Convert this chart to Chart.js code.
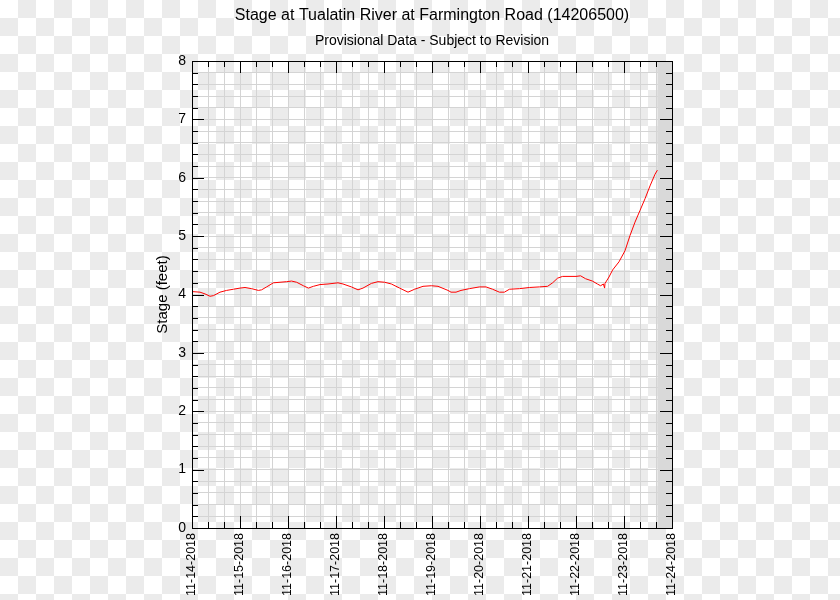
<!DOCTYPE html>
<html>
<head>
<meta charset="utf-8">
<script src="https://cdn.jsdelivr.net/npm/chart.js@4/dist/chart.umd.min.js"></script>
<style>
  html, body { margin: 0; padding: 0; }
  body {
    width: 840px; height: 600px; overflow: hidden;
    background: repeating-conic-gradient(#ebebeb 0 25%, #ffffff 0 50%) 0 0 / 36px 36px;
  }
  canvas { display: block; }
</style>
</head>
<body>
<canvas id="stageChart" width="840" height="600"></canvas>
<script>
// stage readings, hours after 11-14-2018 00:00
const hoursFromStart = [
  0, 4, 6.5, 9, 10.7, 14, 17.3, 20.7, 24, 26.5, 29.8, 33.2, 34.8, 37.3, 40.7, 44, 47.3, 49.8,
  52.3, 55.7, 58.2, 60.7, 64, 68, 73, 75.5, 79.7, 83, 85.5, 89.7, 93, 96.3, 99.7, 103.8, 108,
  111.3, 115.5, 119.7, 123, 128, 129.5, 132, 134.5, 138.7, 143.7, 147, 150.3, 153.7, 156.2,
  158.7, 163.7, 168.7, 173.7, 177.8, 180.3, 182.8, 185.3, 192, 194.3, 196.8, 200.2, 202.7,
  204.3, 205.7, 206.3, 206.5, 208.5, 210.3, 213.5, 216.5, 219, 221.5, 224, 226.5, 229, 231.5, 232.7
];
const stageFeet = [
  4.05, 4.04, 4.01, 3.97, 3.98, 4.04, 4.07, 4.09, 4.11, 4.12, 4.10, 4.07, 4.08, 4.13, 4.20, 4.21, 4.22, 4.23,
  4.21, 4.15, 4.11, 4.14, 4.17, 4.18, 4.20, 4.18, 4.13, 4.08, 4.11, 4.19, 4.22, 4.21, 4.18, 4.11, 4.04,
  4.09, 4.14, 4.15, 4.14, 4.07, 4.04, 4.04, 4.07, 4.10, 4.13, 4.13, 4.09, 4.04, 4.04,
  4.09, 4.10, 4.12, 4.13, 4.14, 4.20, 4.28, 4.31, 4.31, 4.32, 4.27, 4.23, 4.18,
  4.15, 4.18, 4.11, 4.19, 4.30, 4.42, 4.56, 4.75, 5.01, 5.24, 5.44, 5.64, 5.86, 6.06, 6.13
];
const dayLabels = [
  "11-14-2018", "11-15-2018", "11-16-2018", "11-17-2018", "11-18-2018", "11-19-2018",
  "11-20-2018", "11-21-2018", "11-22-2018", "11-23-2018", "11-24-2018"
];
const noDataFrom = 232.7; // shaded after the last reading

Chart.defaults.font.family = '"Liberation Sans", Arial, Helvetica, sans-serif';
Chart.defaults.color = '#000';

// grey band + boxed frame with inward ticks on all four sides
const framePlugin = {
  id: 'frame',
  beforeDatasetsDraw(chart) {
    const { ctx, chartArea: a, scales: { x } } = chart;
    const x0 = x.getPixelForValue(noDataFrom);
    ctx.save();
    ctx.fillStyle = '#d9d9d9';
    ctx.fillRect(x0, a.top, a.right - x0, a.bottom - a.top);
    ctx.restore();
  },
  afterDatasetsDraw(chart) {
    const { ctx, chartArea: a, scales: { x, y } } = chart;
    ctx.save();
    ctx.strokeStyle = '#000';
    ctx.lineWidth = 1;
    ctx.beginPath();
    for (const t of y.ticks) {
      const py = Math.round(y.getPixelForValue(t.value)) + 0.5;
      const len = Number.isInteger(t.value) ? 12 : 6;
      ctx.moveTo(a.left, py); ctx.lineTo(a.left + len, py);
      ctx.moveTo(a.right, py); ctx.lineTo(a.right - len, py);
    }
    for (const t of x.ticks) {
      const px = Math.round(x.getPixelForValue(t.value)) + 0.5;
      const len = t.value % 24 === 0 ? 12 : 6;
      ctx.moveTo(px, a.bottom); ctx.lineTo(px, a.bottom - len);
      ctx.moveTo(px, a.top); ctx.lineTo(px, a.top + len);
    }
    ctx.stroke();
    ctx.strokeRect(Math.round(a.left) + 0.5, Math.round(a.top) + 0.5,
      Math.round(a.right - a.left), Math.round(a.bottom - a.top));
    ctx.restore();
  }
};

new Chart(document.getElementById('stageChart'), {
  type: 'line',
  data: {
    datasets: [{
      label: 'Stage',
      data: hoursFromStart.map((h, i) => ({ x: h, y: stageFeet[i] })),
      borderColor: '#ff0000',
      borderWidth: 1,
      pointRadius: 0,
      tension: 0
    }]
  },
  options: {
    responsive: false,
    animation: false,
    // left padding offsets the titles so they centre over the plot
    layout: { padding: { left: 24, right: 0, top: 0, bottom: 0 } },
    plugins: {
      legend: { display: false },
      tooltip: { enabled: false },
      title: {
        display: true,
        text: 'Stage at Tualatin River at Farmington Road (14206500)',
        font: { size: 16, weight: 'normal' },
        padding: { top: 6, bottom: 3 }
      },
      subtitle: {
        display: true,
        text: 'Provisional Data - Subject to Revision',
        font: { size: 14 },
        padding: { top: 5, bottom: 11 }
      }
    },
    scales: {
      x: {
        type: 'linear',
        min: 0,
        max: 240,
        border: { display: false },
        grid: { color: '#d4d4d4', drawTicks: false },
        ticks: {
          stepSize: 8,
          autoSkip: false,
          maxRotation: 90,
          minRotation: 90,
          padding: 5,
          font: { size: 12.5 },
          callback: v => (v % 24 === 0 ? dayLabels[v / 24] : '')
        },
        afterFit: s => { s.height = 72; }
      },
      y: {
        min: 0,
        max: 8,
        border: { display: false },
        grid: { color: '#d4d4d4', drawTicks: false },
        ticks: {
          stepSize: 0.2,
          autoSkip: false,
          padding: 6,
          font: { size: 14 },
          callback: v => (Number.isInteger(v) ? v : '')
        },
        title: {
          display: true,
          text: 'Stage (feet)',
          font: { size: 15 },
          padding: { top: 130, bottom: 0 }
        },
        afterFit: s => { s.width = 168; }
      },
      // empty right-hand spacer so the plot ends at the same place
      yRight: {
        position: 'right',
        min: 0,
        max: 8,
        grid: { display: false },
        border: { display: false },
        ticks: { display: false },
        afterFit: s => { s.width = 168; }
      }
    }
  },
  plugins: [framePlugin]
});
</script>
</body>
</html>
